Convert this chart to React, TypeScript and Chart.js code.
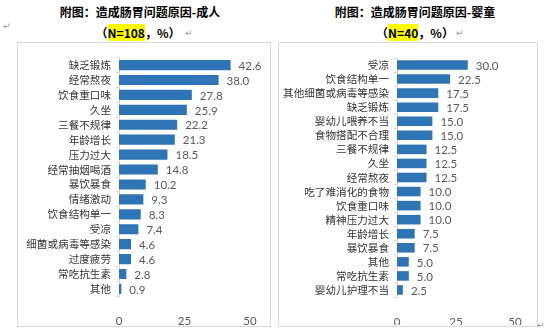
import React, { useEffect, useRef } from "react";
import { Chart, registerables } from "chart.js";

Chart.register(...registerables);

const adultCategories = [
  "缺乏锻炼", "经常熬夜", "饮食重口味", "久坐", "三餐不规律", "年龄增长", "压力过大",
  "经常抽烟喝酒", "暴饮暴食", "情绪激动", "饮食结构单一", "受凉", "细菌或病毒等感染",
  "过度疲劳", "常吃抗生素", "其他",
];
const adultValues = [42.6, 38.0, 27.8, 25.9, 22.2, 21.3, 18.5, 14.8, 10.2, 9.3, 8.3, 7.4, 4.6, 4.6, 2.8, 0.9];

const childCategories = [
  "受凉", "饮食结构单一", "其他细菌或病毒等感染", "缺乏锻炼", "婴幼儿喂养不当", "食物搭配不合理",
  "三餐不规律", "久坐", "经常熬夜", "吃了难消化的食物", "饮食重口味", "精神压力过大",
  "年龄增长", "暴饮暴食", "其他", "常吃抗生素", "婴幼儿护理不当",
];
const childValues = [30.0, 22.5, 17.5, 17.5, 15.0, 15.0, 12.5, 12.5, 12.5, 10.0, 10.0, 10.0, 7.5, 7.5, 5.0, 5.0, 2.5];

const xTicks = [0, 25, 50];

const BAR = "#2E75B6";
const CJK = "'Noto Sans CJK SC', 'Noto Sans', sans-serif";
const NUM = "Lato, 'Noto Sans', sans-serif";

const valueLabelPlugin = {
  id: "valueLabels",
  afterDatasetsDraw(chart: any) {
    const ctx = chart.ctx;
    const meta = chart.getDatasetMeta(0);
    const data = chart.data.datasets[0].data as number[];
    ctx.save();
    ctx.font = `11.5px ${NUM}`;
    ctx.fillStyle = "#595959";
    ctx.textAlign = "left";
    ctx.textBaseline = "middle";
    meta.data.forEach((el: any, i: number) => {
      ctx.fillText(data[i].toFixed(1), el.x + 8, el.y + 1);
    });
    ctx.restore();
  },
};

type BarProps = {
  labels: string[];
  values: number[];
  width: number;
  height: number;
  yWidth: number;
  padRight: number;
  padTop: number;
  xHeight: number;
  left: number;
  top: number;
};

function BarChart(p: BarProps) {
  const ref = useRef<HTMLCanvasElement>(null);
  useEffect(() => {
    if (!ref.current) return;
    const chart = new Chart(ref.current, {
      type: "bar",
      data: {
        labels: p.labels,
        datasets: [
          {
            data: p.values,
            backgroundColor: BAR,
            barPercentage: 0.68,
            categoryPercentage: 1,
          },
        ],
      },
      options: {
        indexAxis: "y",
        animation: false,
        responsive: false,
        maintainAspectRatio: false,
        devicePixelRatio: 1,
        layout: { padding: { left: 0, right: p.padRight, top: p.padTop, bottom: 0 } },
        plugins: { legend: { display: false }, tooltip: { enabled: false } },
        scales: {
          x: {
            min: 0,
            max: 50,
            afterBuildTicks: (s: any) => {
              s.ticks = xTicks.map((v) => ({ value: v }));
            },
            afterFit: (s: any) => {
              s.height = p.xHeight;
            },
            grid: { display: false },
            border: { display: false },
            ticks: { color: "#595959", font: { size: 11.5, family: NUM }, padding: 10 },
          },
          y: {
            afterFit: (s: any) => {
              s.width = p.yWidth;
            },
            grid: { drawOnChartArea: false, drawTicks: true, tickLength: 3, color: "#d9d9d9", offset: true },
            border: { display: true, color: "#d9d9d9" },
            ticks: { color: "#333333", font: { size: 10.6, family: CJK }, padding: 5, autoSkip: false },
          },
        },
      },
      plugins: [valueLabelPlugin],
    } as any);
    return () => chart.destroy();
  }, []);
  return (
    <canvas
      ref={ref}
      width={p.width}
      height={p.height}
      style={{ position: "absolute", left: p.left, top: p.top, width: p.width, height: p.height }}
    />
  );
}

const titleStyle: React.CSSProperties = {
  position: "absolute",
  fontFamily: CJK,
  fontWeight: "bold",
  fontSize: 12,
  color: "#000",
  whiteSpace: "nowrap",
  textAlign: "center",
  lineHeight: "16px",
};

const markStyle: React.CSSProperties = {
  position: "absolute",
  fontFamily: "'DejaVu Sans', sans-serif",
  fontSize: 9,
  color: "#999",
  lineHeight: "10px",
};

export default function App() {
  return (
    <div style={{ position: "absolute", left: 0, top: 0, width: 551, height: 335, background: "#fff", overflow: "hidden" }}>
      <span style={{ ...markStyle, left: 3, top: 21 }}>↵</span>
      <div style={{ ...titleStyle, left: 40, width: 200, top: 4 }}>附图：造成肠胃问题原因-成人</div>
      <div style={{ ...titleStyle, left: 38, width: 200, top: 25 }}>
        （<span style={{ background: "#ffff00" }}>N=108</span>，%）
      </div>
      <span style={{ ...markStyle, left: 185, top: 28 }}>↵</span>

      <div style={{ ...titleStyle, left: 315, width: 200, top: 4 }}>附图：造成肠胃问题原因-婴童</div>
      <div style={{ ...titleStyle, left: 315, width: 200, top: 25 }}>
        （<span style={{ background: "#ffff00" }}>N=40</span>，%）
      </div>
      <span style={{ ...markStyle, left: 456, top: 28 }}>↵</span>

      <div style={{ position: "absolute", left: 17, top: 42, width: 252, height: 283, border: "1px solid #d9d9d9", boxSizing: "content-box" }} />
      <div style={{ position: "absolute", left: 278, top: 42, width: 258, height: 283, border: "1px solid #d9d9d9", boxSizing: "content-box" }} />
      <span style={{ ...markStyle, left: 537, top: 320 }}>↵</span>

      <BarChart
        labels={adultCategories}
        values={adultValues}
        left={18}
        top={43}
        width={251}
        height={282}
        yWidth={101}
        padRight={19}
        padTop={14.6}
        xHeight={28.6}
      />
      <BarChart
        labels={childCategories}
        values={childValues}
        left={279}
        top={43}
        width={257}
        height={282}
        yWidth={118}
        padRight={21}
        padTop={15}
        xHeight={28}
      />
    </div>
  );
}
